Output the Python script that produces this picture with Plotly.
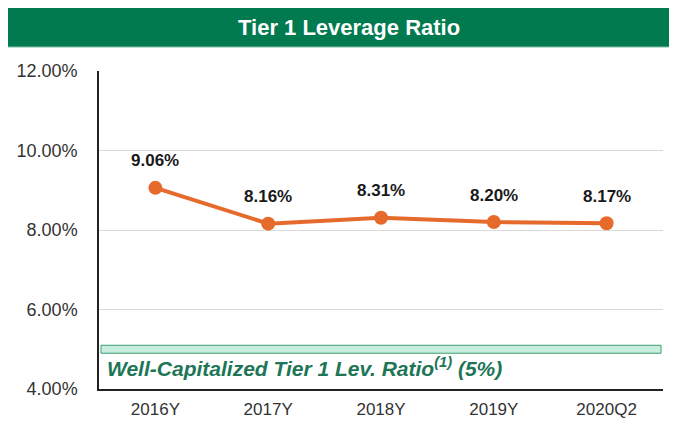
import plotly.graph_objects as go

categories = ["2016Y", "2017Y", "2018Y", "2019Y", "2020Q2"]
ratios = [9.06, 8.16, 8.31, 8.20, 8.17]
y_ticks = [4, 6, 8, 10, 12]
threshold = 5.0
title_text = "Tier 1 Leverage Ratio"
band_text = "<b><i>Well-Capitalized Tier 1 Lev. Ratio<sup>(1)</sup> (5%)</i></b>"

OFF = 8  # page body margin
W, H = 677 - OFF, 427 - OFF
# plot area in screenshot pixels
SL, ST, SR, SB = 99, 71, 663, 389
L, T = SL - OFF, ST - OFF
R, B = W - (SR - OFF), H - (SB - OFF)
ph = H - T - B
pw = W - L - R

def py(s):
    return (SB - s) / ph

def pxx(s):
    return (s - SL) / pw

ORANGE = "#E66A2C"
GREEN = "#007A4E"
FONT = "Arial, Liberation Sans"

fig = go.Figure()
fig.add_trace(go.Scatter(
    x=categories, y=ratios, mode="lines+markers",
    line=dict(color=ORANGE, width=4),
    marker=dict(color=ORANGE, size=14),
    hoverinfo="skip", showlegend=False,
))

for c, v in zip(categories, ratios):
    fig.add_annotation(x=c, y=v, text=f"<b>{v:.2f}%</b>", showarrow=False,
                       yshift=27, font=dict(family=FONT, size=17, color="#1a1a1a"))

# threshold band
fig.add_shape(type="rect", xref="paper", yref="y", x0=pxx(101), x1=pxx(661),
              y0=threshold - 0.1, y1=threshold + 0.1,
              fillcolor="#C9EEDD", line=dict(color="#3A9C74", width=1), layer="above")
fig.add_annotation(xref="paper", yref="y", x=pxx(105), y=threshold - 0.45, xanchor="left",
                   yanchor="middle", text=band_text, showarrow=False,
                   font=dict(family=FONT, size=21, color="#1D7656"))

# title bar
fig.add_shape(type="rect", xref="paper", yref="paper", x0=pxx(7), x1=pxx(680),
              y0=py(47), y1=py(5), fillcolor=GREEN, line=dict(color="#7FBFA3", width=1), layer="below")
fig.add_annotation(xref="paper", yref="paper", x=pxx(349), y=py(27), xanchor="center",
                   yanchor="middle", text=f"<b>{title_text}</b>",
                   showarrow=False, font=dict(family=FONT, size=22, color="white"))

fig.update_layout(
    width=W, height=H, margin=dict(l=L, r=R, t=T, b=B, autoexpand=False),
    paper_bgcolor="white", plot_bgcolor="white",
    xaxis=dict(range=[-0.5, 4.5], showline=True, linecolor="#222", linewidth=1.5,
               showgrid=False, ticks="", ticklabelstandoff=4, automargin=False,
               tickfont=dict(family=FONT, size=17, color="#333"),
               fixedrange=True),
    yaxis=dict(range=[4, 12], tickvals=y_ticks, ticktext=[f"{v:.2f}%" for v in y_ticks],
               showline=True, linecolor="#222", linewidth=1.5, automargin=False,
               showgrid=True, gridcolor="#D9D9D9", gridwidth=1, zeroline=False, ticks="",
               ticklabelstandoff=16,
               tickfont=dict(family=FONT, size=18, color="#333"), fixedrange=True),
)

fig.write_html("out.html")
